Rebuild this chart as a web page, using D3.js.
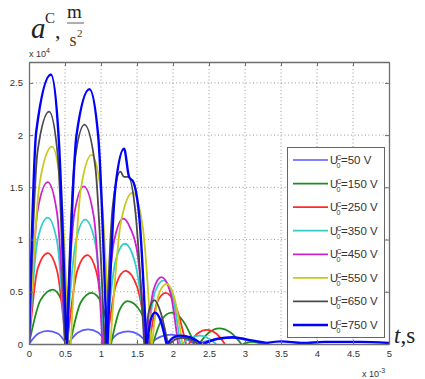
<!DOCTYPE html>
<html>
<head>
<meta charset="utf-8">
<script src="https://cdn.jsdelivr.net/npm/d3@7"></script>
<style>
  body { margin: 0; background: #fff; }
  svg { display: block; }
  text { font-family: Arial, "Liberation Sans", sans-serif; }
</style>
</head>
<body>
<svg id="chart" width="425" height="379"></svg>
<script>
// time in ms (x 10^-3 s), acceleration in x 10^4 m/s^2
// each series is a list of humps, each hump a list of [t, a] points
const voltages = [50, 150, 250, 350, 450, 550, 650, 750];
const colors = ["#5a5aff", "#1f8c1f", "#ff2a2a", "#35cccc", "#cc22cc", "#c8c81e", "#4a4a4a", "#0000ff"];
const xTicks = [0, 0.5, 1, 1.5, 2, 2.5, 3, 3.5, 4, 4.5, 5];
const yTicks = [0, 0.5, 1, 1.5, 2, 2.5];

const s50 = [
  [[0, 0], [0.13, 0.10], [0.26, 0.125], [0.40, 0.10], [0.52, 0]],
  [[0.54, 0], [0.68, 0.11], [0.82, 0.14], [0.96, 0.11], [1.08, 0]],
  [[1.10, 0], [1.24, 0.10], [1.38, 0.12], [1.52, 0.09], [1.65, 0]],
  [[1.67, 0], [1.83, 0.07], [1.98, 0.09], [2.14, 0.06], [2.30, 0]],
  [[2.32, 0], [2.55, 0.04], [2.80, 0.06], [3.00, 0.04], [3.25, 0]]
];
const s150 = [
  [[0, 0], [0.16, 0.42], [0.33, 0.52], [0.45, 0.42], [0.55, 0]],
  [[0.57, 0], [0.72, 0.40], [0.87, 0.49], [1.01, 0.39], [1.13, 0]],
  [[1.14, 0], [1.26, 0.33], [1.37, 0.41], [1.55, 0.31], [1.70, 0]],
  [[1.72, 0], [1.85, 0.24], [1.98, 0.30], [2.14, 0.22], [2.30, 0]],
  [[2.36, 0], [2.50, 0.11], [2.64, 0.15], [2.80, 0.11], [2.95, 0]],
  [[2.97, 0], [3.10, 0.02], [3.30, 0]]
];
const s250 = [
  [[0, 0], [0.12, 0.72], [0.26, 0.87], [0.39, 0.70], [0.51, 0]],
  [[0.53, 0], [0.67, 0.70], [0.81, 0.85], [0.94, 0.68], [1.06, 0]],
  [[1.08, 0], [1.21, 0.57], [1.34, 0.70], [1.50, 0.55], [1.65, 0]],
  [[1.67, 0], [1.78, 0.40], [1.90, 0.49], [2.04, 0.36], [2.18, 0]],
  [[2.22, 0], [2.34, 0.10], [2.47, 0.135], [2.60, 0.10], [2.72, 0]]
];
const s350 = [
  [[0, 0], [0.12, 1.00], [0.26, 1.21], [0.39, 0.98], [0.50, 0]],
  [[0.52, 0], [0.65, 0.98], [0.78, 1.19], [0.92, 0.97], [1.04, 0]],
  [[1.07, 0], [1.20, 0.79], [1.33, 0.96], [1.48, 0.76], [1.63, 0]],
  [[1.64, 0], [1.75, 0.50], [1.87, 0.61], [1.99, 0.47], [2.10, 0]],
  [[2.12, 0], [2.25, 0.06], [2.38, 0.08], [2.50, 0.05], [2.60, 0]]
];
const s450 = [
  [[0, 0], [0.12, 1.28], [0.26, 1.55], [0.39, 1.25], [0.50, 0]],
  [[0.51, 0], [0.63, 1.25], [0.76, 1.51], [0.90, 1.22], [1.02, 0]],
  [[1.05, 0], [1.18, 0.98], [1.31, 1.20], [1.40, 1.12], [1.51, 0.85], [1.62, 0]],
  [[1.63, 0], [1.73, 0.52], [1.84, 0.64], [1.96, 0.50], [2.07, 0]]
];
const s550 = [
  [[0, 0], [0.15, 1.55], [0.32, 1.89], [0.44, 1.50], [0.55, 0]],
  [[0.58, 0], [0.72, 1.48], [0.87, 1.81], [1.00, 1.45], [1.12, 0]],
  [[1.13, 0], [1.28, 1.18], [1.44, 1.45], [1.58, 1.12], [1.70, 0]],
  [[1.71, 0], [1.80, 0.47], [1.91, 0.575], [2.02, 0.44], [2.13, 0]]
];
const s650 = [
  [[0, 0], [0.12, 1.85], [0.28, 2.225], [0.40, 1.80], [0.50, 0]],
  [[0.52, 0], [0.63, 1.72], [0.77, 2.10], [0.92, 1.70], [1.05, 0]],
  [[1.07, 0], [1.16, 1.30], [1.27, 1.65], [1.32, 1.60], [1.38, 1.60], [1.48, 1.25], [1.60, 0]],
  [[1.61, 0], [1.67, 0.33], [1.74, 0.42], [1.83, 0.30], [1.93, 0]],
  [[1.95, 0], [2.05, 0.05], [2.15, 0.06], [2.25, 0.04], [2.35, 0]]
];
const s750 = [
  [[0, 0], [0.10, 2.03], [0.305, 2.58], [0.41, 2.00], [0.52, 0]],
  [[0.53, 0], [0.66, 2.00], [0.84, 2.44], [0.96, 2.00], [1.08, 0]],
  [[1.09, 0], [1.20, 1.50], [1.32, 1.87], [1.39, 1.60], [1.45, 1.55], [1.54, 1.15], [1.63, 0]],
  [[1.64, 0], [1.69, 0.23], [1.75, 0.30], [1.83, 0.22], [1.91, 0]],
  [[1.92, 0], [2.00, 0.06], [2.10, 0.08], [2.25, 0.06], [2.40, 0]],
  [[2.42, 0], [2.62, 0.05], [2.83, 0.065], [3.05, 0.04], [3.30, 0.01]],
  [[3.30, 0.01], [3.50, 0.025], [3.80, 0.01], [4.10, 0.02], [4.60, 0.02], [5.00, 0.01]]
];
const series = [s50, s150, s250, s350, s450, s550, s650, s750];

const svg = d3.select("#chart");
const x = d3.scaleLinear().domain([0, 5]).range([29, 389]);
const y = d3.scaleLinear().domain([0, 2.7]).range([344, 62]);
const [x0, x1] = x.range();
const [yb, yt] = y.range();

svg.append("defs").append("clipPath").attr("id", "plot")
  .append("rect").attr("x", x0).attr("y", yt).attr("width", x1 - x0).attr("height", yb - yt);

// grid
const grid = svg.append("g").attr("stroke", "#808080").attr("stroke-width", 0.8)
  .attr("stroke-dasharray", "1,2.5");
grid.selectAll(".gx").data(xTicks.slice(1, -1)).enter().append("line")
  .attr("x1", d => x(d)).attr("x2", d => x(d)).attr("y1", yt).attr("y2", yb);
grid.selectAll(".gy").data(yTicks.slice(1)).enter().append("line")
  .attr("x1", x0).attr("x2", x1).attr("y1", d => y(d)).attr("y2", d => y(d));

// curves
const line = d3.line().x(d => x(d[0])).y(d => y(d[1])).curve(d3.curveMonotoneX);
svg.append("g").attr("clip-path", "url(#plot)")
  .selectAll("path").data(series).enter().append("path")
  .attr("d", humps => humps.map(h => line(h)).join(""))
  .attr("fill", "none")
  .attr("stroke", (d, i) => colors[i])
  .attr("stroke-width", (d, i) => i === 7 ? 2.4 : 1.8)
  .attr("stroke-linejoin", "round");

// axes (ticks inward, box all round)
const axisColor = "#6e6e6e";
const fmt = d => d3.format("")(d);
const gB = svg.append("g").attr("transform", `translate(0,${yb})`)
  .call(d3.axisBottom(x).tickValues(xTicks).tickSizeInner(-4).tickSizeOuter(0).tickPadding(6).tickFormat(fmt));
const gT = svg.append("g").attr("transform", `translate(0,${yt})`)
  .call(d3.axisTop(x).tickValues(xTicks).tickSizeInner(-4).tickSizeOuter(0).tickFormat(""));
const gL = svg.append("g").attr("transform", `translate(${x0},0)`)
  .call(d3.axisLeft(y).tickValues(yTicks).tickSizeInner(-4).tickSizeOuter(0).tickPadding(6).tickFormat(fmt));
const gR = svg.append("g").attr("transform", `translate(${x1},0)`)
  .call(d3.axisRight(y).tickValues(yTicks).tickSizeInner(-4).tickSizeOuter(0).tickFormat(""));
[gB, gT, gL, gR].forEach(g => {
  g.select(".domain").attr("stroke", axisColor).attr("stroke-width", 1.3);
  g.selectAll(".tick line").attr("stroke", axisColor);
  g.selectAll(".tick text").attr("fill", "#333").style("font-size", "9.5px")
    .style("font-family", "Arial, 'Liberation Sans', sans-serif");
});

// exponent labels
const e4 = svg.append("text").attr("x", 29).attr("y", 57).attr("fill", "#333").style("font-size", "9px");
e4.append("tspan").text("x 10");
e4.append("tspan").attr("dy", -4).style("font-size", "7px").text("4");
const e3 = svg.append("text").attr("x", 362).attr("y", 377).attr("fill", "#333").style("font-size", "9px");
e3.append("tspan").text("x 10");
e3.append("tspan").attr("dy", -4).style("font-size", "7px").text("-3");

// axis titles
const serif = "'Liberation Serif', 'DejaVu Serif', serif";
svg.append("text").attr("x", 31).attr("y", 38).style("font-family", serif)
  .style("font-style", "italic").style("font-size", "29px").attr("fill", "#222").text("a");
svg.append("text").attr("x", 45).attr("y", 23).style("font-family", serif)
  .style("font-size", "15px").attr("fill", "#222").text("C");
svg.append("text").attr("x", 55).attr("y", 38).style("font-family", serif)
  .style("font-size", "22px").attr("fill", "#222").text(",");
svg.append("text").attr("x", 67).attr("y", 18).style("font-family", serif)
  .style("font-size", "19px").attr("fill", "#222").text("m");
svg.append("line").attr("x1", 67).attr("x2", 84).attr("y1", 23).attr("y2", 23)
  .attr("stroke", "#333").attr("stroke-width", 0.8);
svg.append("text").attr("x", 69.5).attr("y", 46).style("font-family", serif)
  .style("font-size", "18px").attr("fill", "#5a3a20").text("s");
svg.append("text").attr("x", 77).attr("y", 37).style("font-family", serif)
  .style("font-size", "11px").attr("fill", "#5a3a20").text("2");

const tl = svg.append("text").attr("x", 394).attr("y", 343).style("font-family", serif)
  .style("font-size", "23px").attr("fill", "#222");
tl.append("tspan").style("font-style", "italic").text("t");
tl.append("tspan").text(",s");

// legend
const lg = svg.append("g");
lg.append("rect").attr("x", 287.5).attr("y", 147.5).attr("width", 97).attr("height", 190)
  .attr("fill", "#fff").attr("stroke", "#666").attr("stroke-width", 1);
const ly = d3.scaleLinear().domain([0, 7]).range([160, 325]);
const items = lg.selectAll(".item").data(voltages).enter().append("g")
  .attr("transform", (d, i) => `translate(0,${ly(i)})`);
items.append("line").attr("x1", 293).attr("x2", 328).attr("y1", 0).attr("y2", 0)
  .attr("stroke", (d, i) => colors[i]).attr("stroke-width", (d, i) => i === 7 ? 2.3 : 1.7);
items.append("text").attr("x", 330).attr("y", 4).attr("fill", "#333").style("font-size", "11px").text("U");
items.append("text").attr("x", 336.5).attr("y", 0).attr("fill", "#333").style("font-size", "7px").text("C");
items.append("text").attr("x", 336.5).attr("y", 8).attr("fill", "#333").style("font-size", "7px").text("0");
items.append("text").attr("x", 341).attr("y", 4).attr("fill", "#333").style("font-size", "11.5px")
  .text(d => "=" + d + " V");
</script>
</body>
</html>
